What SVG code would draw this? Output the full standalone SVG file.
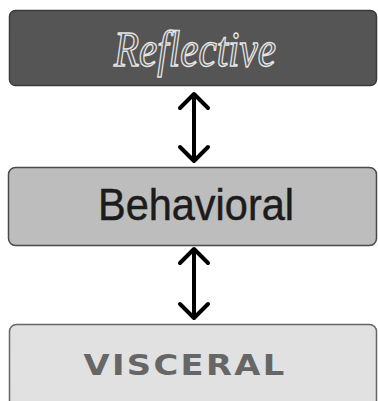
<svg xmlns="http://www.w3.org/2000/svg" width="378" height="401" viewBox="0 0 378 401">
<style>
.box{stroke-width:1.5}
.arrow{fill:none;stroke:#000;stroke-width:4;stroke-linecap:round;stroke-linejoin:round}
</style>
<rect width="378" height="401" fill="#fff"/>
<g id="reflective">
<rect class="box" x="9.5" y="10.5" width="367" height="75" rx="6" fill="#555" stroke="#3a3a3a"/>
<text x="195" y="66" text-anchor="middle" font-family="Liberation Serif, serif" font-style="italic" font-size="50" textLength="162" lengthAdjust="spacingAndGlyphs" fill="none" stroke="#e4e4e4" stroke-width="1.5">Reflective</text>
</g>
<g id="behavioral">
<rect class="box" x="8.5" y="167.5" width="368" height="78" rx="7" fill="#bdbdbd" stroke="#4a4a4a"/>
<text x="196" y="220" text-anchor="middle" font-family="Liberation Sans, sans-serif" font-size="45" textLength="196" lengthAdjust="spacingAndGlyphs" fill="#1c1c1c" stroke="#1c1c1c" stroke-width="0.5">Behavioral</text>
</g>
<g id="visceral">
<rect class="box" x="9.5" y="324.5" width="367" height="95" rx="7" fill="#e1e1e1" stroke="#666"/>
<text x="185" y="375" text-anchor="middle" font-family="DejaVu Sans, sans-serif" font-weight="bold" font-size="29" letter-spacing="2" textLength="203" lengthAdjust="spacingAndGlyphs" fill="#666">VISCERAL</text>
</g>
<g id="connectors">
<path class="arrow" d="M194 95 V159 M180 108 L194 94 L208 108 M180 147 L194 161 L208 147"/>
<path class="arrow" d="M194 250 V316 M180 263 L194 249 L208 263 M180 304 L194 318 L208 304"/>
</g>
</svg>
